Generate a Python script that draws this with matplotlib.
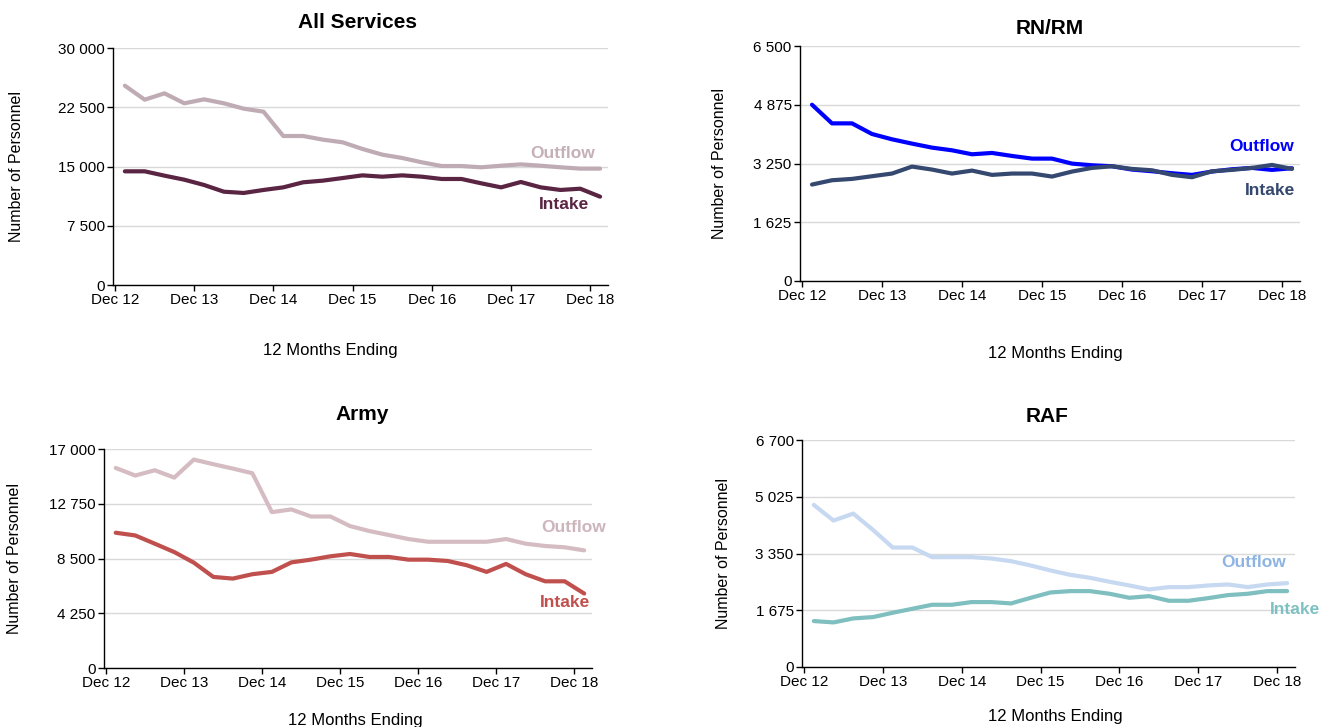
import numpy as np
import matplotlib.pyplot as plt

plt.rcParams['font.family'] = ['Liberation Sans', 'DejaVu Sans']

# quarterly, 12 months ending Dec 12 ... Dec 18
tick_labels = ['Dec 12', 'Dec 13', 'Dec 14', 'Dec 15', 'Dec 16', 'Dec 17', 'Dec 18']

all_outflow = [25230, 23460, 24260, 23000, 23500, 23000, 22320, 21940, 18860, 18860,
               18400, 18060, 17220, 16500, 16080, 15530, 15060, 15060, 14900, 15100,
               15270, 15100, 14900, 14730, 14730]
all_intake = [14390, 14390, 13840, 13330, 12660, 11810, 11650, 12030, 12360, 13000,
              13210, 13540, 13880, 13710, 13880, 13710, 13420, 13420, 12870, 12360,
              13040, 12360, 12030, 12190, 11180]

rn_outflow = [4876, 4360, 4360, 4066, 3919, 3800, 3689, 3615, 3505, 3542,
              3459, 3385, 3385, 3247, 3201, 3174, 3082, 3036, 2981, 2935,
              3027, 3091, 3128, 3073, 3119]
rn_intake = [2668, 2787, 2824, 2898, 2972, 3165, 3082, 2972, 3054, 2935,
             2972, 2972, 2889, 3027, 3128, 3174, 3100, 3063, 2935, 2870,
             3036, 3073, 3128, 3211, 3100]

army_outflow = [15530, 14940, 15350, 14780, 16180, 15820, 15480, 15120, 12100, 12310,
                11760, 11760, 11020, 10630, 10320, 10010, 9800, 9800, 9800, 9800,
                10010, 9650, 9470, 9370, 9130]
army_intake = [10500, 10290, 9650, 9000, 8180, 7070, 6940, 7280, 7460, 8200,
               8410, 8670, 8850, 8620, 8620, 8410, 8410, 8310, 7970, 7460,
               8080, 7280, 6730, 6730, 5780]

raf_outflow = [4784, 4322, 4528, 4047, 3526, 3526, 3242, 3242, 3242, 3202,
               3124, 2996, 2849, 2721, 2633, 2515, 2407, 2289, 2358, 2358,
               2407, 2436, 2358, 2436, 2475]
raf_intake = [1356, 1316, 1434, 1473, 1601, 1719, 1837, 1837, 1916, 1916,
              1876, 2043, 2200, 2240, 2240, 2161, 2043, 2092, 1955, 1955,
              2033, 2122, 2161, 2240, 2240]

W, H = 1336, 727
fig = plt.figure(figsize=(W / 100, H / 100), dpi=100)
fig.patch.set_facecolor('white')


def px_axes(l, t, r, b):
    return fig.add_axes([l / W, 1 - b / H, (r - l) / W, (b - t) / H])


panels = [
    # title, box (l,t,r,b), yticks, outflow, intake, colors, label positions, title pos, xlabel pos, ylabel x
    ('All Services', (113, 48, 608, 285), [0, 7500, 15000, 22500, 30000],
     all_outflow, all_intake, '#BFABB3', '#5A2443', '#C4B0B7', '#5A2443',
     (22.1, 16650), (22.2, 10170), (357, 22), (330, 350), 17),
    ('RN/RM', (800, 46, 1300, 281), [0, 1625, 3250, 4875, 6500],
     rn_outflow, rn_intake, '#0000FF', '#35486F', '#0000FF', '#35486F',
     (22.5, 3718), (22.9, 2503), (1050, 28), (1055, 354), 720),
    ('Army', (104, 449, 592, 668), [0, 4250, 8500, 12750, 17000],
     army_outflow, army_intake, '#D5BCC3', '#C0504D', '#CDB5BC', '#C0504D',
     (23.45, 10940), (23.0, 5050), (362, 415), (355, 720), 15),
    ('RAF', (802, 440, 1295, 667), [0, 1675, 3350, 5025, 6700],
     raf_outflow, raf_intake, '#C6D9F1', '#7FBFC0', '#8DB4E2', '#7FC1C2',
     (22.3, 3075), (24.4, 1690), (1047, 417), (1055, 717), 723),
]

x = np.arange(len(all_outflow))

for (title, box, yt, out, inn, c_out, c_in, lc_out, lc_in,
     pos_out, pos_in, tpos, xlpos, ylx) in panels:
    ax = px_axes(*box)
    ax.plot(x, out, color=c_out, lw=3, solid_capstyle='round', zorder=3)
    ax.plot(x, inn, color=c_in, lw=3, solid_capstyle='round', zorder=3)
    ax.set_ylim(yt[0], yt[-1])
    ax.set_yticks(yt)
    ax.set_yticklabels([f'{v:,}'.replace(',', ' ') for v in yt], fontsize=11)
    ax.set_xlim(-0.6, 24.4)
    ax.set_xticks(np.arange(len(tick_labels)) * 4 - 0.5)
    ax.set_xticklabels(tick_labels, fontsize=11)
    ax.grid(axis='y', color='#D9D9D9', lw=1)
    ax.set_axisbelow(True)
    for s in ['top', 'right']:
        ax.spines[s].set_visible(False)
    ax.spines['left'].set_linewidth(1)
    ax.spines['bottom'].set_linewidth(1)
    ax.tick_params(axis='both', direction='out', length=4, width=1, pad=2)
    ax.text(*pos_out, 'Outflow', color=lc_out, fontsize=12.5, fontweight='bold',
            ha='center', va='center')
    ax.text(*pos_in, 'Intake', color=lc_in, fontsize=12.5, fontweight='bold',
            ha='center', va='center')
    fig.text(tpos[0] / W, 1 - tpos[1] / H, title, fontsize=15, fontweight='bold',
             ha='center', va='center')
    fig.text(xlpos[0] / W, 1 - xlpos[1] / H, '12 Months Ending', fontsize=12,
             ha='center', va='center')
    cy = (box[1] + box[3]) / 2
    fig.text(ylx / W, 1 - cy / H, 'Number of Personnel', fontsize=11.5,
             rotation=90, ha='center', va='center')

fig.savefig('out.png', dpi=100)
